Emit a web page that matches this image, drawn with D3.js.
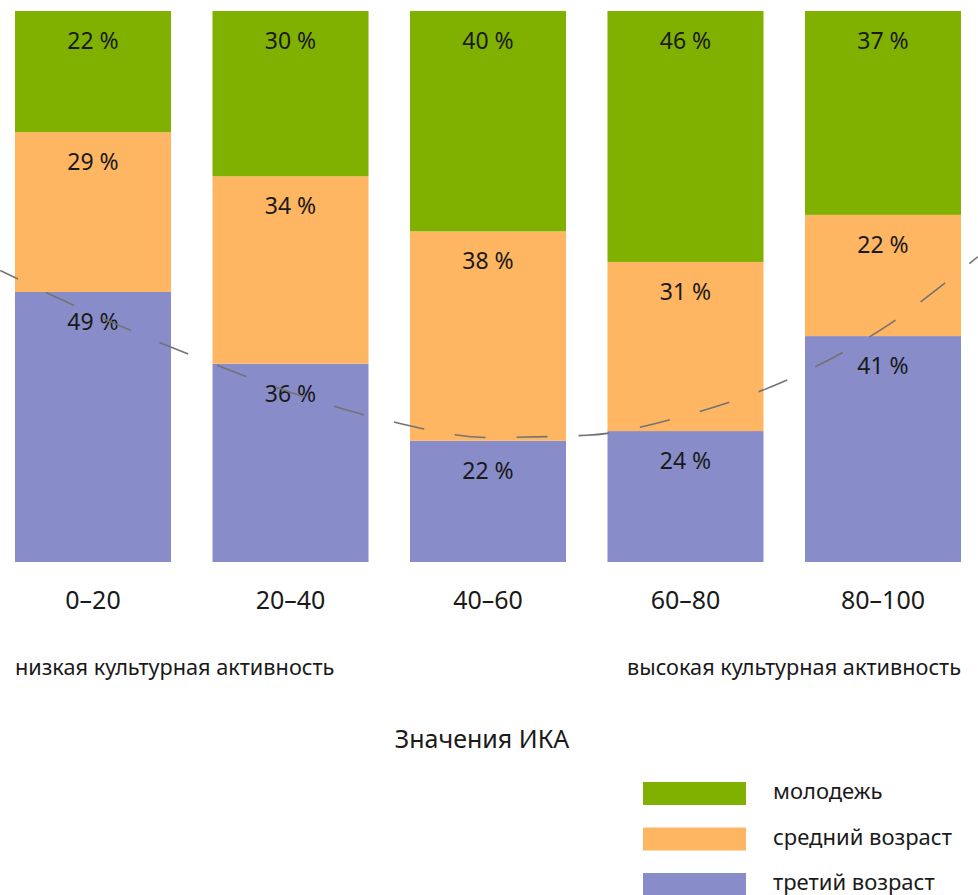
<!DOCTYPE html>
<html>
<head>
<meta charset="utf-8">
<script src="https://cdn.jsdelivr.net/npm/d3@7"></script>
<style>
  html, body { margin: 0; padding: 0; background: #fff; }
  svg { display: block; }
  text { font-family: "Noto Sans", "Open Sans", sans-serif; fill: #1a1a1a; }
</style>
</head>
<body>
<svg id="chart" width="978" height="895"></svg>
<script>
// ---- data ----
const categories = ["0–20", "20–40", "40–60", "60–80", "80–100"];
const seriesNames = ["третий возраст", "средний возраст", "молодежь"];
const thirdAge  = [49, 36, 22, 24, 41];
const middleAge = [29, 34, 38, 31, 22];
const youth     = [22, 30, 40, 46, 37];
// dashed trend curve: position in category units and value in %
const trendPos = [-0.47, 0, 0.5, 1, 1.5, 2, 2.5, 3, 3.5, 4, 4.48];
const trendVal = [52.9, 45.0, 37.5, 30.8, 25.6, 22.6, 23.0, 26.6, 32.8, 42.4, 55.4];
const lowLabel = "низкая культурная активность";
const highLabel = "высокая культурная активность";
const axisTitle = "Значения ИКА";
const legendOrder = ["молодежь", "средний возраст", "третий возраст"];

const colors = {
  "третий возраст": "#888dc9",
  "средний возраст": "#ffb662",
  "молодежь": "#80b100"
};

const table = categories.map((c, i) => ({
  cat: c,
  "третий возраст": thirdAge[i],
  "средний возраст": middleAge[i],
  "молодежь": youth[i]
}));

const svg = d3.select("#chart");

const x = d3.scaleBand().domain(categories).range([15, 961]).paddingInner(0.21).paddingOuter(0);
const y = d3.scaleLinear().domain([0, 1]).range([562, 11]);

const stack = d3.stack().keys(seriesNames).offset(d3.stackOffsetExpand);
const layers = stack(table);

const g = svg.append("g");
layers.forEach(layer => {
  const key = layer.key;
  g.selectAll(null).data(layer).enter().append("rect")
    .attr("x", d => x(d.data.cat))
    .attr("width", x.bandwidth())
    .attr("y", d => y(d[1]))
    .attr("height", d => y(d[0]) - y(d[1]))
    .attr("fill", colors[key]);
});

// trend line
const xc = d3.scaleLinear().domain([0, categories.length - 1])
  .range([x(categories[0]) + x.bandwidth() / 2, x(categories[categories.length - 1]) + x.bandwidth() / 2]);
const trendPts = trendPos.map((p, i) => [xc(p), y(trendVal[i] / 100)]);
const line = d3.line().curve(d3.curveMonotoneX);
const path = svg.append("path")
  .attr("d", line(trendPts))
  .attr("fill", "none")
  .attr("stroke", "#737373")
  .attr("stroke-width", 1.6)
  .attr("stroke-dasharray", "31 31");
// phase the dashes so that one starts near x=394
(function () {
  const node = path.node();
  const total = node.getTotalLength();
  let lo = 0, hi = total;
  for (let k = 0; k < 40; k++) {
    const mid = (lo + hi) / 2;
    if (node.getPointAtLength(mid).x < 394) lo = mid; else hi = mid;
  }
  const L = lo;
  path.attr("stroke-dashoffset", ((62 - (L % 62)) % 62));
})();

// value labels
layers.forEach(layer => {
  g.selectAll(null).data(layer).enter().append("text")
    .attr("x", d => x(d.data.cat) + x.bandwidth() / 2)
    .attr("y", d => y(d[1]) + 38)
    .attr("text-anchor", "middle")
    .style("font-size", "23px")
    .text(d => (d.data[layer.key]) + " %");
});

// category axis
const axis = d3.axisBottom(x).tickSize(0).tickPadding(0);
const ax = svg.append("g").attr("transform", "translate(0,591)").call(axis);
ax.select(".domain").remove();
ax.selectAll("text").style("font-size", "25px").attr("dy", "0.71em")
  .style("font-family", "\"Noto Sans\", sans-serif").attr("fill", "#1a1a1a");

svg.append("text").attr("x", 15).attr("y", 675).style("font-size", "21.7px").text(lowLabel);
svg.append("text").attr("x", 961).attr("y", 675).attr("text-anchor", "end").style("font-size", "21.7px").text(highLabel);
svg.append("text").attr("x", 482).attr("y", 748).attr("text-anchor", "middle").style("font-size", "25px").text(axisTitle);

// legend
const leg = svg.append("g");
legendOrder.forEach((name, i) => {
  const yy = 782 + i * 45.5;
  leg.append("rect").attr("x", 643).attr("y", yy).attr("width", 103).attr("height", 23).attr("fill", colors[name]);
  leg.append("text").attr("x", 773).attr("y", yy + 17).style("font-size", "22px").text(name);
});
</script>
</body>
</html>
